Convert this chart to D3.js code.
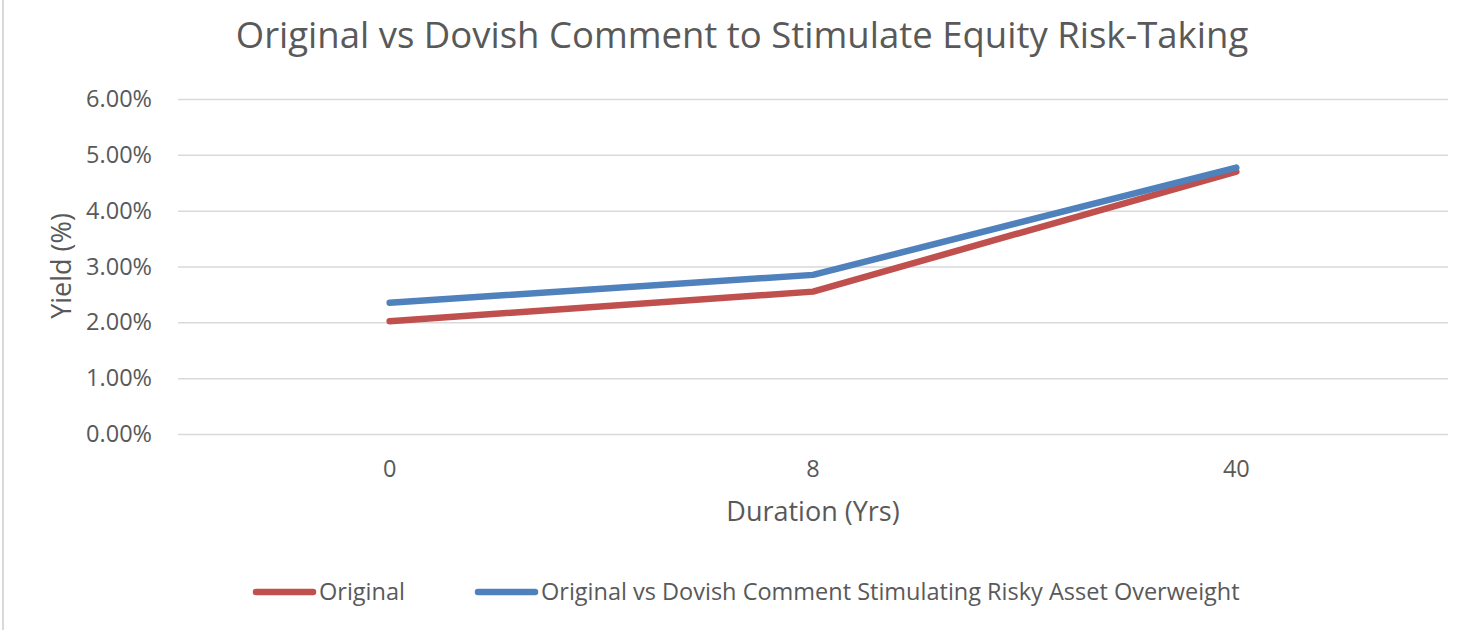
<!DOCTYPE html>
<html>
<head>
<meta charset="utf-8">
<script src="https://cdn.jsdelivr.net/npm/d3@7"></script>
<style>
  body { margin: 0; background: #fff; }
  text { font-family: "Open Sans", "Noto Sans", sans-serif; fill: #595959; }
</style>
</head>
<body>
<div id="frame_div"></div>
<script>
// chart data
const durations = ["0", "8", "40"];
const original = [2.02, 2.55, 4.70];
const dovish = [2.35, 2.85, 4.77];
const yTicks = [0, 1, 2, 3, 4, 5, 6];
const seriesNames = ["Original", "Original vs Dovish Comment Stimulating Risky Asset Overweight"];
const seriesColors = ["#c0504d", "#4f81bd"];

const FRAME_WIDTH = 1464;
const FRAME_HEIGHT = 630;
const MARGINS = {left: 178, right: 16, top: 99, bottom: 196};

const VIS_WIDTH = FRAME_WIDTH - MARGINS.left - MARGINS.right;
const VIS_HEIGHT = FRAME_HEIGHT - MARGINS.top - MARGINS.bottom;

const TICK_FONT = 23.5;

const FRAME = d3.select("#frame_div")
  .append("svg")
    .attr("width", FRAME_WIDTH)
    .attr("height", FRAME_HEIGHT);

// outer chart border (only left edge visible in the crop)
FRAME.append("line")
  .attr("x1", 3).attr("x2", 3)
  .attr("y1", 0).attr("y2", FRAME_HEIGHT)
  .attr("stroke", "#d9d9d9")
  .attr("stroke-width", 2);

const X_SCALE = d3.scaleBand()
  .domain(durations)
  .range([0, VIS_WIDTH]);

const Y_SCALE = d3.scaleLinear()
  .domain([0, 6])
  .range([VIS_HEIGHT, 0]);

const G = FRAME.append("g")
  .attr("transform", `translate(${MARGINS.left},${MARGINS.top})`);

// gridlines + y labels
const yAxis = d3.axisLeft(Y_SCALE)
  .tickValues(yTicks)
  .tickSize(-VIS_WIDTH)
  .tickPadding(26)
  .tickFormat(d => d.toFixed(2) + "%");

G.append("g")
  .call(yAxis)
  .call(g => g.select(".domain").remove())
  .call(g => g.selectAll(".tick line").attr("stroke", "#d9d9d9").attr("stroke-width", 1.5))
  .call(g => g.selectAll(".tick text").attr("font-size", TICK_FONT).style("fill", "#595959"));

// x labels
const xAxis = d3.axisBottom(X_SCALE).tickSize(0).tickPadding(26);
G.append("g")
  .attr("transform", `translate(0,${VIS_HEIGHT})`)
  .call(xAxis)
  .call(g => g.select(".domain").remove())
  .call(g => g.selectAll(".tick text").attr("font-size", TICK_FONT).style("fill", "#595959"));

// lines
const line = d3.line()
  .x((d, i) => X_SCALE(durations[i]) + X_SCALE.bandwidth() / 2)
  .y(d => Y_SCALE(d));

[original, dovish].forEach((s, i) => {
  G.append("path")
    .datum(s)
    .attr("d", line)
    .attr("fill", "none")
    .attr("stroke", seriesColors[i])
    .attr("stroke-width", 6.5)
    .attr("stroke-linecap", "round")
    .attr("stroke-linejoin", "round");
});

// title
FRAME.append("text")
  .attr("x", 742)
  .attr("y", 48)
  .attr("text-anchor", "middle")
  .attr("font-size", 36.5)
  .text("Original vs Dovish Comment to Stimulate Equity Risk-Taking");

// axis titles
FRAME.append("text")
  .attr("x", 813)
  .attr("y", 521)
  .attr("text-anchor", "middle")
  .attr("font-size", 27)
  .text("Duration (Yrs)");

FRAME.append("text")
  .attr("transform", "translate(71,266) rotate(-90)")
  .attr("text-anchor", "middle")
  .attr("font-size", 27)
  .text("Yield (%)");

// legend
const legendX = [256, 478];
seriesNames.forEach((name, i) => {
  const lg = FRAME.append("g").attr("transform", `translate(${legendX[i]},592)`);
  lg.append("line")
    .attr("x1", 0).attr("x2", 57)
    .attr("stroke", seriesColors[i])
    .attr("stroke-width", 6.5)
    .attr("stroke-linecap", "round");
  lg.append("text")
    .attr("x", 63)
    .attr("y", 8)
    .attr("font-size", TICK_FONT)
    .text(name);
});
</script>
</body>
</html>
